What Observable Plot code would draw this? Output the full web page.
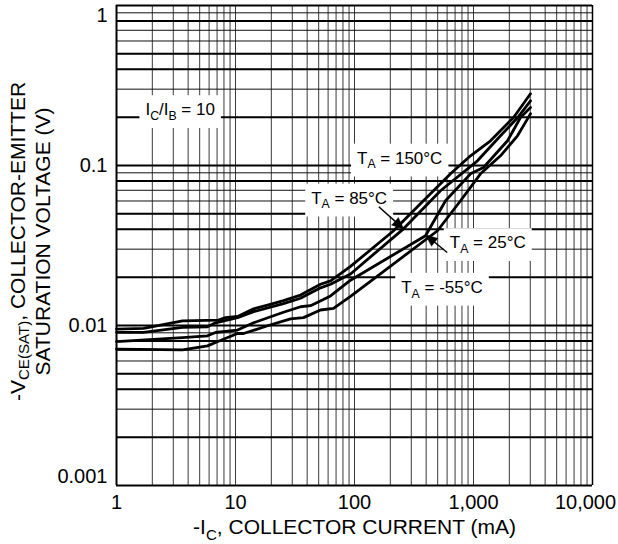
<!DOCTYPE html>
<html><head><meta charset="utf-8">
<script src="https://cdn.jsdelivr.net/npm/d3@7"></script>
<script src="https://cdn.jsdelivr.net/npm/@observablehq/plot@0.6"></script>
<style>
html,body{margin:0;padding:0;background:#fff;}
#chart{width:618px;height:544px;}
</style></head><body><div id="chart"></div>
<script>
// ---- axis ticks ----
const xTicks = [1, 10, 100, 1000, 10000];
const xTickLabels = ["1", "10", "100", "1,000", "10,000"];
const yTicks = [0.001, 0.01, 0.1, 1];
const yTickLabels = ["0.001", "0.01", "0.1", "1"];
const gridMultipliers = [1, 2, 3, 4, 5, 6, 7, 8, 9];
const thickMultipliers = [1, 2, 4, 5, 8];

// ---- series (I_C in mA, V_CE(sat) in V) ----
const seriesNames = ["150°C", "85°C", "25°C", "-55°C"];
const ic150 = [1, 1.69, 3.59, 7.2, 8.24, 10.4, 14.2, 18.6, 25.3, 35.2, 51.8, 62.9, 92.6, 213, 358, 641, 944, 1390, 2169, 3013];
const vce150 = [0.0095, 0.0096, 0.0107, 0.0108, 0.0112, 0.0114, 0.0127, 0.0134, 0.0143, 0.0155, 0.0181, 0.019, 0.0234, 0.0391, 0.0576, 0.0887, 0.115, 0.1427, 0.1995, 0.2806];
const ic85 = [1, 1.69, 3.59, 5.82, 6.79, 10.4, 14.2, 25.3, 35.2, 51.8, 62.9, 92.6, 258, 528, 1080, 1686, 2343, 3013];
const vce85 = [0.00907, 0.00907, 0.00974, 0.00982, 0.0104, 0.0112, 0.0122, 0.0137, 0.0148, 0.0172, 0.0181, 0.021, 0.0402, 0.0695, 0.107, 0.1533, 0.1986, 0.2537];
const ic25 = [1, 3.59, 5.82, 6.79, 10.4, 14.2, 25.3, 35.2, 42.7, 62.9, 92.6, 395, 582, 944, 1213, 1931, 2483, 3013];
const vce25 = [0.00794, 0.00841, 0.00862, 0.00904, 0.00936, 0.0104, 0.0121, 0.0131, 0.0133, 0.0153, 0.0192, 0.0364, 0.0602, 0.0887, 0.0971, 0.1427, 0.1995, 0.2304];
const icM55 = [1, 3.59, 5.82, 6.79, 10.4, 11.7, 18.6, 29, 37.3, 51.8, 66.6, 92.6, 498, 778, 1145, 1686, 2343, 2843, 3013];
const vceM55 = [0.00712, 0.00705, 0.00746, 0.00783, 0.00891, 0.00891, 0.00996, 0.011, 0.0112, 0.0125, 0.0128, 0.0152, 0.0391, 0.0602, 0.0887, 0.115, 0.1533, 0.1957, 0.2104];

// ---- annotations ----
const labelTexts = ["I_{C}/I_{B} = 10", "T_{A} = 150°C", "T_{A} = 85°C", "T_{A} = 25°C", "T_{A} = -55°C"];
const labelX = [1.75, 105, 188, 632, 247];
const labelY = [0.223, 0.111, 0.0624, 0.0329, 0.0173];
const labelEndAnchored = [false, false, true, false, false];
const arrowX1 = [160, 601], arrowY1 = [0.0552, 0.0286];
const arrowX2 = [260, 395], arrowY2 = [0.040, 0.0369];

const xTitle = "-I_{C}, COLLECTOR CURRENT (mA)";
const yTitle1 = "-V_{CE(SAT)}, COLLECTOR-EMITTER";
const yTitle2 = "SATURATION VOLTAGE (V)";

// ---- derived tables ----
const ics = [ic150, ic85, ic25, icM55], vces = [vce150, vce85, vce25, vceM55];
const rows = seriesNames.flatMap((s, k) => ics[k].map((I, i) => ({series: s, I, V: vces[k][i]})));
const hGrid = [];
for (const d of [0.001, 0.01, 0.1]) for (const m of gridMultipliers) hGrid.push({v: +(d * m).toPrecision(3), thick: thickMultipliers.includes(m)});
hGrid.push({v: 1, thick: true});
const vGrid = [];
for (const d of [1, 10, 100, 1000]) for (const m of gridMultipliers) vGrid.push(d * m);
vGrid.push(10000);
const labels = labelTexts.map((t, i) => ({t, x: labelX[i], y: labelY[i], end: labelEndAnchored[i]}));

const W = 618, H = 544, mL = 116, mR = 26, mT = 5, mB = 59;
const xs = d3.scaleLog([1, 10000], [mL, W - mR]);
const ys = d3.scaleLog([0.001, 1], [H - mB, mT]);
const arrows = arrowX1.map((x1, i) => {
  const dx = xs(arrowX2[i]) - xs(x1), dy = ys(arrowY2[i]) - ys(arrowY1[i]);
  return {x1, y1: arrowY1[i], x2: arrowX2[i], y2: arrowY2[i], rot: Math.atan2(dx, -dy) * 180 / Math.PI};
});

const FONT = "'Liberation Sans', Arial, Helvetica, sans-serif";

const plot = Plot.plot({
  width: W, height: H,
  marginLeft: mL, marginRight: mR, marginTop: mT, marginBottom: mB,
  x: {type: "log", domain: [1, 10000], axis: null},
  y: {type: "log", domain: [0.001, 1], axis: null},
  style: {fontFamily: FONT, fontSize: "20px", color: "black", background: "white", overflow: "visible"},
  marks: [
    Plot.ruleX(vGrid, {x: d => d, stroke: "#3a3a3a", strokeWidth: 1}),
    Plot.ruleY(hGrid.filter(d => !d.thick), {y: "v", stroke: "#111", strokeWidth: 1}),
    Plot.ruleY(hGrid.filter(d => d.thick), {y: "v", stroke: "#000", strokeWidth: 2}),
    Plot.ruleX([1], {stroke: "#000", strokeWidth: 2}),
    Plot.ruleX([10000], {stroke: "#000", strokeWidth: 1.5}),
    Plot.text(labels.filter(d => !d.end), {x: "x", y: "y", text: "t", textAnchor: "start", fontSize: 17, fill: "black", ariaDescription: "boxed"}),
    Plot.text(labels.filter(d => d.end), {x: "x", y: "y", text: "t", textAnchor: "end", fontSize: 17, fill: "black", ariaDescription: "boxed"}),
    Plot.link(arrows, {x1: "x1", y1: "y1", x2: "x2", y2: "y2", stroke: "black", strokeWidth: 1.5}),
    Plot.vector(arrows, {x: "x2", y: "y2", rotate: "rot", length: 12, r: 5, shape: "spike", anchor: "end", fill: "black", stroke: "black", strokeWidth: 0.5}),
    Plot.line(rows, {x: "I", y: "V", z: "series", stroke: "black", strokeWidth: 2.8, strokeLinejoin: "round"}),
    Plot.text(yTicks, {filter: (d, i) => i === 1 || i === 2, y: d => d, text: (d, i) => yTickLabels[i], frameAnchor: "left", textAnchor: "end", dx: -9}),
    Plot.text(yTicks, {filter: (d, i) => i === 0, y: d => d, text: (d, i) => yTickLabels[i], frameAnchor: "left", textAnchor: "end", dx: -9, dy: -9}),
    Plot.text(yTicks, {filter: (d, i) => i === 3, y: d => d, text: (d, i) => yTickLabels[i], frameAnchor: "left", textAnchor: "end", dx: -9, dy: 10}),
    Plot.text(xTicks, {filter: (d, i) => i < 4, x: d => d, text: (d, i) => xTickLabels[i], frameAnchor: "bottom", lineAnchor: "top", dy: 9}),
    Plot.text(xTicks, {filter: (d, i) => i === 4, x: d => d, text: (d, i) => xTickLabels[i], frameAnchor: "bottom", lineAnchor: "top", dy: 9, dx: -7}),
    Plot.text([xTitle], {text: d => d, frameAnchor: "bottom", textAnchor: "middle", lineAnchor: "middle", dy: 42, fontSize: 21}),
    Plot.text([yTitle1], {text: d => d, frameAnchor: "left", textAnchor: "middle", rotate: -90, dx: -98, dy: -4, fontSize: 21, ariaDescription: "ytitle1"}),
    Plot.text([yTitle2], {text: d => d, frameAnchor: "left", textAnchor: "middle", rotate: -90, dx: -73, dy: -4, fontSize: 21})
  ]
});
document.getElementById("chart").append(plot);

// subscripts: "_{...}" -> lowered smaller tspan
const NS = "http://www.w3.org/2000/svg";
plot.querySelectorAll("text").forEach(el => {
  const raw = el.textContent;
  if (!raw.includes("_{")) return;
  const fs = parseFloat(getComputedStyle(el).fontSize) || 18;
  const isYTitle = el.closest('g[aria-description="ytitle1"]') !== null;
  const drop = fs * (isYTitle ? 0.2 : 0.28);
  el.textContent = "";
  let shifted = false;
  for (const p of raw.split(/(_\{[^}]*\})/)) {
    if (!p) continue;
    const t = document.createElementNS(NS, "tspan");
    if (p.startsWith("_{")) {
      t.textContent = p.slice(2, -1);
      t.setAttribute("font-size", (fs * 0.72).toFixed(2));
      t.setAttribute("dy", drop.toFixed(2));
      shifted = true;
    } else {
      t.textContent = p;
      if (shifted) { t.setAttribute("dy", (-drop).toFixed(2)); shifted = false; }
    }
    el.appendChild(t);
  }
});
// white boxes behind the in-plot labels
plot.querySelectorAll('g[aria-description="boxed"] text').forEach(el => {
  const b = el.getBBox();
  const r = document.createElementNS(NS, "rect");
  r.setAttribute("x", b.x - 6); r.setAttribute("y", b.y - 5);
  r.setAttribute("width", b.width + 12); r.setAttribute("height", b.height + 10);
  r.setAttribute("fill", "white");
  if (el.getAttribute("transform")) r.setAttribute("transform", el.getAttribute("transform"));
  el.parentNode.insertBefore(r, el);
});
</script>
</body></html>
